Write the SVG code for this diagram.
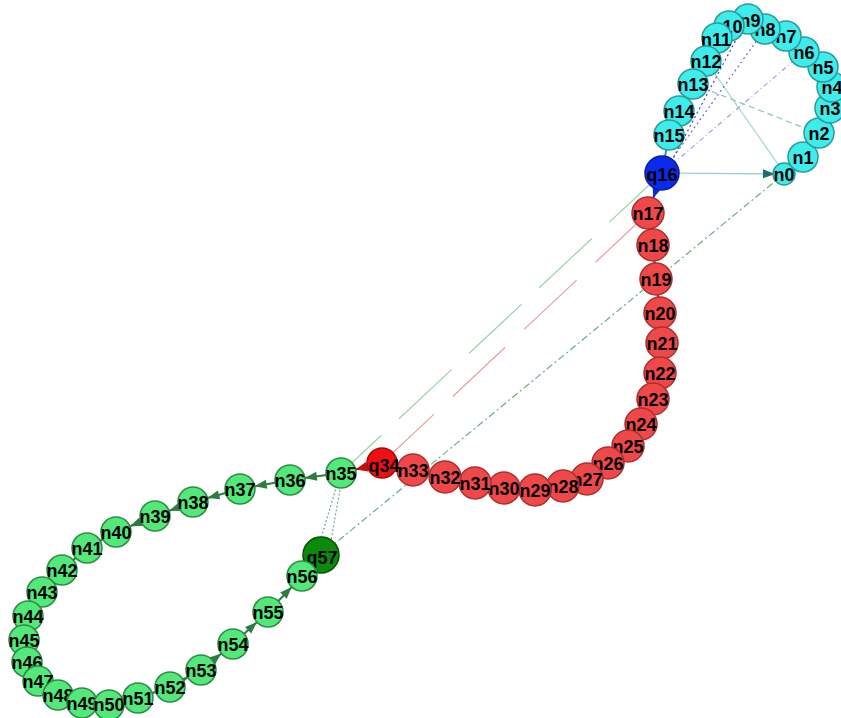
<svg xmlns="http://www.w3.org/2000/svg" width="841" height="718" viewBox="0 0 841 718">
<style>
text{font-family:"Liberation Sans",Arial,sans-serif;font-weight:bold;font-size:18px;fill:#000;text-anchor:middle;dominant-baseline:central}
.c{fill:#3eecec;stroke:#2a9a9a;stroke-width:1.5}
.r{fill:#f04848;stroke:#a83030;stroke-width:1.5}
.g{fill:#52e87a;stroke:#2e8b46;stroke-width:1.5}
.ce{stroke:#2a9a9a;stroke-width:2;fill:none}
.re{stroke:#8b2525;stroke-width:2;fill:none}
.ge{stroke:#2e7d40;stroke-width:2;fill:none;marker-end:url(#ag)}
.long{fill:none;stroke-width:1.2}
</style>
<defs>
<marker id="ag" viewBox="0 0 12 9" refX="27" refY="4.5" markerWidth="12" markerHeight="9" orient="auto" markerUnits="userSpaceOnUse" overflow="visible"><path d="M0,0L12,4.5L0,9z" fill="#2e7d40"/></marker>
<marker id="ab" viewBox="0 0 12 10" refX="28" refY="5" markerWidth="12" markerHeight="10" orient="auto" markerUnits="userSpaceOnUse" overflow="visible"><path d="M0,0L12,5L0,10z" fill="#0a2bd8"/></marker>
<marker id="at" viewBox="0 0 12 9" refX="21" refY="4.5" markerWidth="12" markerHeight="9" orient="auto" markerUnits="userSpaceOnUse" overflow="visible"><path d="M0,0L12,4.5L0,9z" fill="#1e6e6e"/></marker>
<marker id="ar" viewBox="0 0 12 10" refX="27" refY="5" markerWidth="12" markerHeight="10" orient="auto" markerUnits="userSpaceOnUse" overflow="visible"><path d="M0,0L12,5L0,10z" fill="#c01010"/></marker>
</defs>
<rect width="841" height="718" fill="#fff"/>
<g id="connectors">
<line class="long" x1="706" y1="61" x2="782" y2="170" stroke="#9fd4cc"/>
<line class="long" x1="693" y1="84" x2="812" y2="131" stroke="#88c4c4" stroke-dasharray="6 4"/>
<line class="long" x1="765" y1="29" x2="662" y2="173" stroke="#6a6ae0" stroke-dasharray="2 3"/>
<line class="long" x1="747" y1="19" x2="668" y2="168" stroke="#4444bb" stroke-dasharray="2 3"/>
<line class="long" x1="804" y1="52" x2="662" y2="173" stroke="#a0a0e8" stroke-dasharray="5 3 1 3"/>
<line class="long" x1="662" y1="173" x2="784" y2="174" stroke="#8ccccc" stroke-width="1.5" marker-end="url(#at)"/>
<line class="long" x1="662" y1="173" x2="341" y2="473" stroke="#9ad4a6" stroke-width="1" stroke-dasharray="72 24"/>
<line class="long" x1="648" y1="213" x2="382" y2="463" stroke="#e4a0a0" stroke-width="1" stroke-dasharray="72 26"/>
<line class="long" x1="784" y1="174" x2="321" y2="555" stroke="#6aae7b" stroke-width="1" stroke-dasharray="7 3 2 3"/>
<line class="long" x1="339" y1="478" x2="317" y2="552" stroke="#77aa88" stroke-dasharray="2 2"/>
<line class="long" x1="342" y1="478" x2="329" y2="552" stroke="#77aa88" stroke-dasharray="2 2"/>
<polyline class="ce" points="784,174 803,157 819,133 830,108 832,87 823,67 804,52 786,36 765,29 747,19 729,26 717,38 706,61 693,84 679,111 669,135 662,173"/>
<polyline class="re" points="648,213 653,245 656,279 660,313 662,343 660,373 653,399 641,424 628,446 608,463 587,479 563,486 535,490 504,488 475,483 445,477 413,470 382,463"/>
<line x1="662" y1="173" x2="648" y2="213" stroke="#0a2bd8" stroke-width="2" marker-end="url(#ab)"/>
<line x1="382" y1="463" x2="341" y2="473" stroke="#a01515" stroke-width="2" marker-end="url(#ar)"/>
<line class="ge" x1="341" y1="473" x2="290" y2="480"/>
<line class="ge" x1="290" y1="480" x2="240" y2="489"/>
<line class="ge" x1="240" y1="489" x2="193" y2="502"/>
<line class="ge" x1="193" y1="502" x2="155" y2="516"/>
<line class="ge" x1="155" y1="516" x2="116" y2="532"/>
<line class="ge" x1="116" y1="532" x2="87" y2="548"/>
<line class="ge" x1="87" y1="548" x2="62" y2="570"/>
<line class="ge" x1="62" y1="570" x2="42" y2="592"/>
<line class="ge" x1="42" y1="592" x2="28" y2="616"/>
<line class="ge" x1="28" y1="616" x2="24" y2="640"/>
<line class="ge" x1="24" y1="640" x2="27" y2="662"/>
<line class="ge" x1="27" y1="662" x2="38" y2="681"/>
<line class="ge" x1="38" y1="681" x2="58" y2="695"/>
<line class="ge" x1="58" y1="695" x2="82" y2="703"/>
<line class="ge" x1="82" y1="703" x2="109" y2="705"/>
<line class="ge" x1="109" y1="705" x2="138" y2="698"/>
<line class="ge" x1="138" y1="698" x2="170" y2="687"/>
<line class="ge" x1="170" y1="687" x2="201" y2="670"/>
<line class="ge" x1="201" y1="670" x2="233" y2="644"/>
<line class="ge" x1="233" y1="644" x2="268" y2="612"/>
<line class="ge" x1="268" y1="612" x2="302" y2="576"/>
<line class="ge" x1="302" y1="576" x2="321" y2="555"/>
</g>
<g id="n0"><circle class="c" cx="784" cy="174" r="11"/><text x="784" y="175">n0</text></g>
<g id="n1"><circle class="c" cx="803" cy="157" r="15"/><text x="803" y="158">n1</text></g>
<g id="n2"><circle class="c" cx="819" cy="133" r="15"/><text x="819" y="134">n2</text></g>
<g id="n3"><circle class="c" cx="830" cy="108" r="15"/><text x="830" y="109">n3</text></g>
<g id="n4"><circle class="c" cx="832" cy="87" r="15"/><text x="832" y="88">n4</text></g>
<g id="n5"><circle class="c" cx="823" cy="67" r="15"/><text x="823" y="68">n5</text></g>
<g id="n6"><circle class="c" cx="804" cy="52" r="15"/><text x="804" y="53">n6</text></g>
<g id="n7"><circle class="c" cx="786" cy="36" r="15"/><text x="786" y="37">n7</text></g>
<g id="n8"><circle class="c" cx="765" cy="29" r="15"/><text x="765" y="30">n8</text></g>
<g id="n9"><circle class="c" cx="748" cy="19" r="15"/><text x="750" y="21">n9</text></g>
<g id="n10"><circle class="c" cx="729" cy="26" r="15"/><text x="727" y="27">n10</text></g>
<g id="n11"><circle class="c" cx="717" cy="38" r="15"/><text x="716" y="40">n11</text></g>
<g id="n12"><circle class="c" cx="706" cy="61" r="15"/><text x="706" y="62">n12</text></g>
<g id="n13"><circle class="c" cx="693" cy="84" r="15"/><text x="693" y="85">n13</text></g>
<g id="n14"><circle class="c" cx="679" cy="111" r="15"/><text x="679" y="112">n14</text></g>
<g id="n15"><circle class="c" cx="669" cy="135" r="15"/><text x="669" y="136">n15</text></g>
<g id="q16"><circle cx="662" cy="173" r="17" fill="#0a2bef" stroke="#0a1e9a" stroke-width="1.5"/><text x="662" y="175">q16</text></g>
<g id="n17"><circle class="r" cx="648" cy="213" r="16"/><text x="648" y="214">n17</text></g>
<g id="n18"><circle class="r" cx="653" cy="245" r="16"/><text x="653" y="246">n18</text></g>
<g id="n19"><circle class="r" cx="656" cy="279" r="16"/><text x="656" y="280">n19</text></g>
<g id="n20"><circle class="r" cx="660" cy="313" r="16"/><text x="660" y="314">n20</text></g>
<g id="n21"><circle class="r" cx="662" cy="343" r="16"/><text x="662" y="344">n21</text></g>
<g id="n22"><circle class="r" cx="660" cy="373" r="16"/><text x="660" y="374">n22</text></g>
<g id="n23"><circle class="r" cx="653" cy="399" r="16"/><text x="653" y="400">n23</text></g>
<g id="n24"><circle class="r" cx="641" cy="424" r="16"/><text x="641" y="425">n24</text></g>
<g id="n25"><circle class="r" cx="628" cy="446" r="16"/><text x="628" y="447">n25</text></g>
<g id="n26"><circle class="r" cx="608" cy="463" r="16"/><text x="608" y="464">n26</text></g>
<g id="n27"><circle class="r" cx="587" cy="479" r="16"/><text x="587" y="480">n27</text></g>
<g id="n28"><circle class="r" cx="563" cy="486" r="16"/><text x="563" y="487">n28</text></g>
<g id="n29"><circle class="r" cx="535" cy="490" r="16"/><text x="535" y="491">n29</text></g>
<g id="n30"><circle class="r" cx="504" cy="488" r="16"/><text x="504" y="489">n30</text></g>
<g id="n31"><circle class="r" cx="475" cy="483" r="16"/><text x="475" y="484">n31</text></g>
<g id="n32"><circle class="r" cx="445" cy="477" r="16"/><text x="445" y="478">n32</text></g>
<g id="n33"><circle class="r" cx="413" cy="470" r="16"/><text x="413" y="471">n33</text></g>
<g id="q34"><circle cx="382" cy="463" r="15" fill="#ee1111" stroke="#a01010" stroke-width="1.5"/><text x="384" y="466">q34</text></g>
<g id="n35"><circle class="g" cx="341" cy="473" r="15"/><text x="341" y="474">n35</text></g>
<g id="n36"><circle class="g" cx="290" cy="480" r="15"/><text x="290" y="481">n36</text></g>
<g id="n37"><circle class="g" cx="240" cy="489" r="15"/><text x="240" y="490">n37</text></g>
<g id="n38"><circle class="g" cx="193" cy="502" r="15"/><text x="193" y="503">n38</text></g>
<g id="n39"><circle class="g" cx="155" cy="516" r="15"/><text x="155" y="517">n39</text></g>
<g id="n40"><circle class="g" cx="116" cy="532" r="15"/><text x="116" y="533">n40</text></g>
<g id="n41"><circle class="g" cx="87" cy="548" r="15"/><text x="87" y="549">n41</text></g>
<g id="n42"><circle class="g" cx="62" cy="570" r="15"/><text x="62" y="571">n42</text></g>
<g id="n43"><circle class="g" cx="42" cy="592" r="15"/><text x="42" y="593">n43</text></g>
<g id="n44"><circle class="g" cx="28" cy="616" r="15"/><text x="28" y="617">n44</text></g>
<g id="n45"><circle class="g" cx="24" cy="640" r="15"/><text x="24" y="641">n45</text></g>
<g id="n46"><circle class="g" cx="27" cy="662" r="15"/><text x="27" y="663">n46</text></g>
<g id="n47"><circle class="g" cx="38" cy="681" r="15"/><text x="38" y="682">n47</text></g>
<g id="n48"><circle class="g" cx="58" cy="695" r="15"/><text x="58" y="696">n48</text></g>
<g id="n49"><circle class="g" cx="82" cy="703" r="15"/><text x="82" y="704">n49</text></g>
<g id="n50"><circle class="g" cx="109" cy="705" r="15"/><text x="109" y="705">n50</text></g>
<g id="n51"><circle class="g" cx="138" cy="698" r="15"/><text x="138" y="699">n51</text></g>
<g id="n52"><circle class="g" cx="170" cy="687" r="15"/><text x="170" y="688">n52</text></g>
<g id="n53"><circle class="g" cx="201" cy="670" r="15"/><text x="201" y="671">n53</text></g>
<g id="n54"><circle class="g" cx="233" cy="644" r="15"/><text x="233" y="645">n54</text></g>
<g id="n55"><circle class="g" cx="268" cy="612" r="15"/><text x="268" y="613">n55</text></g>
<g id="q57"><circle cx="321" cy="555" r="18" fill="#0b8a0b" stroke="#065006" stroke-width="1.5"/><text x="322" y="558">q57</text></g>
<g id="n56"><circle class="g" cx="302" cy="576" r="15"/><text x="302" y="577">n56</text></g>
</svg>
